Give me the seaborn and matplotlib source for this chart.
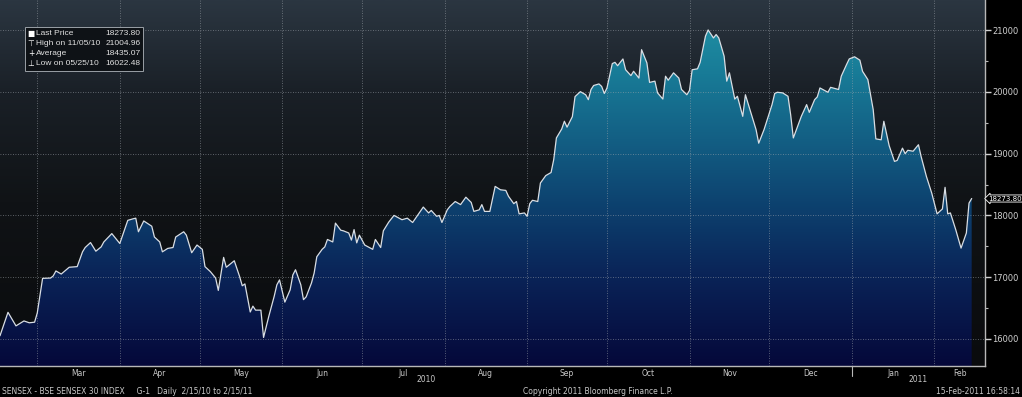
import matplotlib.pyplot as plt
import matplotlib.dates as mdates
import matplotlib.transforms as mtransforms
from matplotlib.colors import LinearSegmentedColormap
from matplotlib.patches import Rectangle
import numpy as np
import pandas as pd
import seaborn as sns


# SENSEX closes (approximate, ~every 2 days)
dates = [
    '2010-02-15', '2010-02-18', '2010-02-21', '2010-02-24', '2010-02-26', '2010-02-28',
    '2010-03-01', '2010-03-03', '2010-03-06', '2010-03-07', '2010-03-08', '2010-03-10',
    '2010-03-13', '2010-03-16', '2010-03-18', '2010-03-19', '2010-03-21', '2010-03-23',
    '2010-03-25', '2010-03-26', '2010-03-29', '2010-04-01', '2010-04-04', '2010-04-06',
    '2010-04-07', '2010-04-08', '2010-04-10', '2010-04-13', '2010-04-14', '2010-04-16',
    '2010-04-17', '2010-04-19', '2010-04-21', '2010-04-22', '2010-04-25', '2010-04-26',
    '2010-04-28', '2010-04-30', '2010-05-02', '2010-05-03', '2010-05-05', '2010-05-07',
    '2010-05-08', '2010-05-10', '2010-05-11', '2010-05-14', '2010-05-16', '2010-05-17',
    '2010-05-18', '2010-05-20', '2010-05-21', '2010-05-22', '2010-05-24', '2010-05-25',
    '2010-05-27', '2010-05-29', '2010-05-30', '2010-05-31', '2010-06-02', '2010-06-04',
    '2010-06-05', '2010-06-06', '2010-06-08', '2010-06-09', '2010-06-10', '2010-06-12',
    '2010-06-13', '2010-06-14', '2010-06-16', '2010-06-17', '2010-06-18', '2010-06-20',
    '2010-06-21', '2010-06-23', '2010-06-24', '2010-06-26', '2010-06-27', '2010-06-28',
    '2010-06-29', '2010-06-30', '2010-07-02', '2010-07-05', '2010-07-06', '2010-07-08',
    '2010-07-09', '2010-07-11', '2010-07-13', '2010-07-16', '2010-07-18', '2010-07-20',
    '2010-07-22', '2010-07-24', '2010-07-26', '2010-07-27', '2010-07-29', '2010-07-30',
    '2010-07-31', '2010-08-02', '2010-08-03', '2010-08-05', '2010-08-07', '2010-08-09',
    '2010-08-11', '2010-08-12', '2010-08-14', '2010-08-15', '2010-08-16', '2010-08-18',
    '2010-08-20', '2010-08-22', '2010-08-24', '2010-08-25', '2010-08-27', '2010-08-28',
    '2010-08-29', '2010-08-31', '2010-09-01', '2010-09-02', '2010-09-03', '2010-09-05',
    '2010-09-06', '2010-09-08', '2010-09-10', '2010-09-11', '2010-09-12', '2010-09-14',
    '2010-09-15', '2010-09-16', '2010-09-18', '2010-09-19', '2010-09-21', '2010-09-23',
    '2010-09-24', '2010-09-25', '2010-09-26', '2010-09-28', '2010-09-29', '2010-09-30',
    '2010-10-01', '2010-10-03', '2010-10-04', '2010-10-05', '2010-10-07', '2010-10-08',
    '2010-10-10', '2010-10-11', '2010-10-13', '2010-10-14', '2010-10-16', '2010-10-17',
    '2010-10-19', '2010-10-20', '2010-10-22', '2010-10-23', '2010-10-24', '2010-10-26',
    '2010-10-28', '2010-10-29', '2010-10-31', '2010-11-01', '2010-11-02', '2010-11-04',
    '2010-11-05', '2010-11-07', '2010-11-08', '2010-11-10', '2010-11-11', '2010-11-12',
    '2010-11-14', '2010-11-15', '2010-11-16', '2010-11-18', '2010-11-19', '2010-11-21',
    '2010-11-22', '2010-11-24', '2010-11-26', '2010-11-27', '2010-11-29', '2010-11-30',
    '2010-12-02', '2010-12-03', '2010-12-04', '2010-12-06', '2010-12-08', '2010-12-09',
    '2010-12-10', '2010-12-13', '2010-12-15', '2010-12-16', '2010-12-18', '2010-12-19',
    '2010-12-20', '2010-12-23', '2010-12-24', '2010-12-27', '2010-12-28', '2010-12-30',
    '2010-12-31', '2011-01-02', '2011-01-04', '2011-01-05', '2011-01-07', '2011-01-09',
    '2011-01-10', '2011-01-12', '2011-01-13', '2011-01-15', '2011-01-17', '2011-01-18',
    '2011-01-20', '2011-01-21', '2011-01-22', '2011-01-24', '2011-01-26', '2011-01-27',
    '2011-01-29', '2011-01-31', '2011-02-02', '2011-02-04', '2011-02-05', '2011-02-06',
    '2011-02-07', '2011-02-09', '2011-02-11', '2011-02-13', '2011-02-14', '2011-02-15',
]
prices = [
    16050, 16430, 16210, 16290, 16260, 16270,
    16420, 16980, 16985, 17020, 17100, 17050,
    17160, 17170, 17410, 17480, 17560, 17420,
    17490, 17570, 17705, 17545, 17920, 17945,
    17955, 17735, 17910, 17825, 17650, 17570,
    17410, 17465, 17480, 17650, 17735, 17680,
    17395, 17520, 17450, 17170, 17090, 16985,
    16785, 17320, 17160, 17265, 17010, 16860,
    16890, 16435, 16530, 16465, 16465, 16022.48,
    16370, 16690, 16875, 16955, 16595, 16795,
    17035, 17120, 16875, 16635, 16680, 16905,
    17065, 17330, 17450, 17490, 17610, 17570,
    17875, 17760, 17750, 17715, 17600, 17770,
    17555, 17680, 17520, 17450, 17610, 17480,
    17750, 17890, 18000, 17930, 17955, 17885,
    18010, 18135, 18040, 18080, 17985, 18000,
    17885, 18090, 18145, 18225, 18175, 18295,
    18210, 18065, 18090, 18175, 18065, 18065,
    18470, 18415, 18405, 18310, 18190, 18225,
    18025, 18040, 17985, 18190, 18245, 18225,
    18525, 18645, 18695, 18905, 19255, 19400,
    19525, 19430, 19600, 19925, 20005, 19955,
    19875, 20040, 20105, 20130, 20090, 19975,
    20065, 20460, 20480, 20425, 20535, 20360,
    20265, 20335, 20225, 20685, 20470, 20155,
    20175, 19985, 19885, 20255, 20190, 20310,
    20225, 20040, 19955, 20025, 20360, 20375,
    20480, 20905, 21004.96, 20875, 20930, 20875,
    20580, 20175, 20310, 19885, 19930, 19605,
    19955, 19670, 19390, 19170, 19390, 19525,
    19795, 19975, 19995, 19985, 19930, 19630,
    19255, 19605, 19795, 19670, 19875, 19920,
    20065, 19995, 20075, 20040, 20255, 20445,
    20535, 20570, 20515, 20335, 20200, 19715,
    19240, 19225, 19525, 19130, 18875, 18890,
    19090, 19000, 19055, 19040, 19145, 18955,
    18630, 18360, 18025, 18105, 18455, 18025,
    18040, 17770, 17470, 17715, 18200, 18273.80,
]

price_ticks = [16000, 17000, 18000, 19000, 20000, 21000]

legend_labels = ['Last Price', 'High on 11/05/10', 'Average', 'Low on 05/25/10']
legend_symbols = ['\u25A0', '\u22A4', '+', '\u22A5']
legend_values = ['18273.80', '21004.96', '18435.07', '16022.48']

footer_left = 'SENSEX - BSE SENSEX 30 INDEX     G-1   Daily  2/15/10 to 2/15/11'
footer_mid = 'Copyright 2011 Bloomberg Finance L.P.'
footer_right = '15-Feb-2011 16:58:14'

df = pd.DataFrame({'date': pd.to_datetime(dates), 'price': prices})

sns.set_style('dark')
plt.rcParams['font.family'] = ['DejaVu Sans']
legend_font = ['Liberation Sans', 'DejaVu Sans']

x_start = pd.Timestamp('2010-02-15')
x_end = pd.Timestamp('2011-02-20')
y_lo, y_hi = 15560, 21490

fig = plt.figure(figsize=(10.22, 3.97), dpi=100, facecolor='black')
ax = fig.add_axes([0, 31 / 397, 985 / 1022, 366 / 397])
ax.set_facecolor('black')

# line first so the x axis becomes a date axis
sns.lineplot(data=df, x='date', y='price', ax=ax, color='#d9dee4',
             linewidth=0.9, zorder=4, legend=False)

# background gradient (dark slate at top -> black)
bg_cmap = LinearSegmentedColormap.from_list(
    'bg', [(0, '#0a0b0d'), (0.45, '#101316'), (0.75, '#1a2027'), (1, '#2b3641')])
grad = np.linspace(0, 1, 256).reshape(-1, 1)
ax.imshow(grad, extent=[0, 1, 0, 1], transform=ax.transAxes, origin='lower',
          aspect='auto', cmap=bg_cmap, zorder=0)

# area under the line, filled with a teal->navy gradient
area = ax.fill_between(df['date'], df['price'], y_lo, facecolor='none',
                       edgecolor='none', zorder=1)
fill_cmap = LinearSegmentedColormap.from_list(
    'fill', [(0, '#05083a'), (0.25, '#0a2458'), (0.45, '#0d4370'),
             (0.62, '#135f84'), (0.80, '#187b97'), (1, '#2297a8')])
x0, x1 = mdates.date2num(x_start), mdates.date2num(x_end)
im = ax.imshow(grad, extent=[x0, x1, y_lo, y_hi], origin='lower',
               aspect='auto', cmap=fill_cmap, zorder=1)
im.set_clip_path(area.get_paths()[0], ax.transData)

ax.set_xlim(x_start, x_end)
ax.set_ylim(y_lo, y_hi)

# axes styling
for side in ['top', 'left']:
    ax.spines[side].set_visible(False)
for side in ['right', 'bottom']:
    ax.spines[side].set_color('#b8b8b8')
    ax.spines[side].set_linewidth(1)
    ax.spines[side].set_visible(True)

ax.yaxis.tick_right()
ax.set_yticks(price_ticks)
ax.set_yticklabels([str(t) for t in price_ticks])
ax.set_yticks([t + 500 for t in price_ticks[:-1]], minor=True)
ax.tick_params(axis='y', which='major', direction='out', length=4, width=1,
               colors='#d0d0d0', labelsize=6, pad=1)
ax.tick_params(axis='y', which='minor', direction='out', length=2, width=0.8,
               color='#b8b8b8')

month_starts = pd.date_range('2010-03-01', '2011-02-01', freq='MS')
bounds = list(month_starts) + [x_end]
month_mids = [a + (b - a) / 2 for a, b in zip(bounds[:-1], bounds[1:])]
ax.set_xticks(month_starts)
ax.set_xticklabels([])
ax.set_xticks(month_mids, minor=True)
ax.set_xticklabels([d.strftime('%b') for d in month_mids], minor=True)
ax.tick_params(axis='x', which='major', direction='out', length=2,
               color='#b8b8b8')
ax.tick_params(axis='x', which='minor', length=0, colors='#c8c8c8',
               labelsize=5.5, pad=2)
ax.set_xlabel('')
ax.set_ylabel('')

ax.set_axisbelow(False)
ax.grid(True, which='major', linestyle=(0, (1, 2)), color='#a0a6ac',
        linewidth=0.6, alpha=0.7)

# year labels under the months and year separator
trans = mtransforms.blended_transform_factory(ax.transData, ax.transAxes)
year_2011 = pd.Timestamp('2011-01-01')
for label, a, b in [('2010', x_start, year_2011), ('2011', year_2011, x_end)]:
    ax.text(a + (b - a) / 2, -0.038, label, transform=trans, ha='center',
            va='center', fontsize=5.5, color='#c8c8c8')
ax.plot([year_2011, year_2011], [0, -0.028], transform=trans, color='#b8b8b8',
        linewidth=0.8, clip_on=False)

# last price tag on the right axis
ax.annotate(f'{prices[-1]:.2f}', xy=(1.0, prices[-1]),
            xycoords=('axes fraction', 'data'), xytext=(2.5, 0),
            textcoords='offset points', ha='left', va='center', fontsize=5,
            color='white', annotation_clip=False,
            bbox=dict(boxstyle='larrow,pad=0.08', fc='black', ec='white', lw=0.6))

# Bloomberg-style legend box
ax.add_patch(Rectangle((0.0254, 0.806), 0.1198, 0.12, transform=ax.transAxes,
                       facecolor='#0e1216', edgecolor='#9aa0a6', linewidth=0.7,
                       zorder=5))
row_y = [0.908, 0.881, 0.854, 0.827]
for sym, lab, val, y in zip(legend_symbols, legend_labels, legend_values, row_y):
    ax.text(0.0315, y, sym, transform=ax.transAxes, ha='center', va='center',
            fontsize=5.5, color='white', zorder=6)
    ax.text(0.0365, y, lab, transform=ax.transAxes, ha='left', va='center',
            fontsize=6, color='#e0e0e0', zorder=6, family=legend_font)
    ax.text(0.1428, y, val, transform=ax.transAxes, ha='right', va='center',
            fontsize=6, color='#e0e0e0', zorder=6, family=legend_font)

# footer
fig.text(0.002, 0.015, footer_left, ha='left', va='center', fontsize=5.5, color='#c8c8c8')
fig.text(0.512, 0.015, footer_mid, ha='left', va='center', fontsize=5.5, color='#c8c8c8')
fig.text(0.998, 0.015, footer_right, ha='right', va='center', fontsize=5.5, color='#c8c8c8')

fig.savefig('out.png', dpi=100, facecolor='black')
